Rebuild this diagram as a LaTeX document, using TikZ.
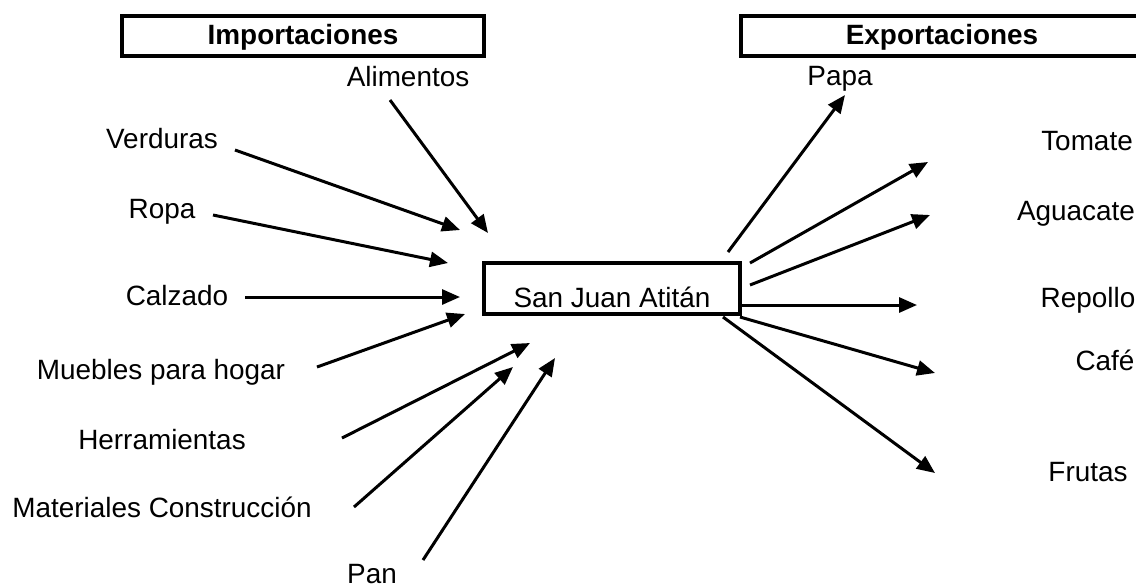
\documentclass[tikz,border=0pt]{standalone}
\usepackage{fontspec}
\setmainfont{Liberation Sans}
\usetikzlibrary{arrows.meta}
\begin{document}
\begin{tikzpicture}[x=0.5pt,y=-0.5pt,
  txt/.style={font=\fontsize{13.95pt}{16pt}\selectfont},
  lbl/.style={txt,anchor=base,inner sep=0pt},
  titlebox/.style={txt,font=\fontsize{13.95pt}{16pt}\selectfont\bfseries,draw,line width=2.2pt,inner sep=0pt,minimum height=20pt,text height=10pt,text depth=2pt},
  mainbox/.style={txt,draw,line width=2.25pt,inner sep=0pt,minimum width=128pt,minimum height=25.5pt,text height=21pt,text depth=2.5pt},
  conn/.style={line width=1.5pt,-{Triangle[length=9pt,width=7.5pt]}}]
\useasboundingbox (0,0) rectangle (1136,586);

% title boxes
\node[titlebox,minimum width=181pt] (imp) at (303,36) {Importaciones};
\node[titlebox,minimum width=201pt] (exp) at (942,36) {Exportaciones};

% centre
\node[mainbox] (sj) at (612,288.5) {San Juan Atitán};

% import labels
\node[lbl] (alim) at (408,86) {Alimentos};
\node[lbl] (verd) at (162,148) {Verduras};
\node[lbl] (ropa) at (162,218) {Ropa};
\node[lbl] (calz) at (177,305) {Calzado};
\node[lbl] (mueb) at (161,379) {Muebles para hogar};
\node[lbl] (herr) at (162,449) {Herramientas};
\node[lbl] (mate) at (162,517) {Materiales Construcción};
\node[lbl] (pan) at (372,583) {Pan};

% export labels
\node[lbl] (papa) at (840,85) {Papa};
\node[lbl] (toma) at (1087,150) {Tomate};
\node[lbl] (agua) at (1076,220) {Aguacate};
\node[lbl] (repo) at (1088,307) {Repollo};
\node[lbl] (cafe) at (1105,370) {Café};
\node[lbl] (frut) at (1088,481) {Frutas};

% arrow end points
\coordinate (a1s) at (390,100); \coordinate (a1e) at (488,233);
\coordinate (a2s) at (235,150); \coordinate (a2e) at (460,230);
\coordinate (a3s) at (213,215); \coordinate (a3e) at (448,263);
\coordinate (a4s) at (245,297); \coordinate (a4e) at (460,297);
\coordinate (a5s) at (317,367); \coordinate (a5e) at (465,314);
\coordinate (a6s) at (342,438); \coordinate (a6e) at (530,343);
\coordinate (a7s) at (354,507); \coordinate (a7e) at (513,367);
\coordinate (a8s) at (423,560); \coordinate (a8e) at (555,358);

\coordinate (e1s) at (728,252); \coordinate (e1e) at (845,95);
\coordinate (e2s) at (750,263); \coordinate (e2e) at (928,162);
\coordinate (e3s) at (750,285); \coordinate (e3e) at (930,215);
\coordinate (e4s) at (742,305); \coordinate (e4e) at (917,305);
\coordinate (e5s) at (740,317); \coordinate (e5e) at (935,373);
\coordinate (e6s) at (723,317); \coordinate (e6e) at (935,473);

\foreach \i in {1,...,8} {\draw[conn] (a\i s) -- (a\i e);}
\foreach \i in {1,...,6} {\draw[conn] (e\i s) -- (e\i e);}
\end{tikzpicture}
\end{document}
